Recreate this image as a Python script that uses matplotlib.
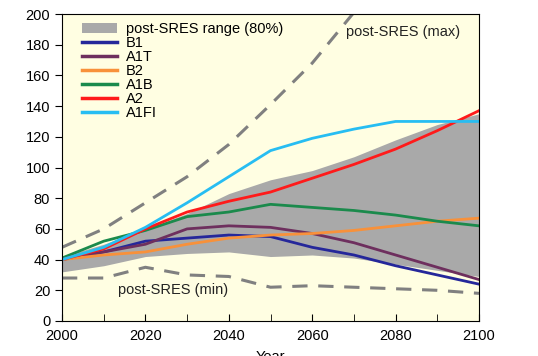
import matplotlib
matplotlib.use("Agg")
import matplotlib.pyplot as plt
from matplotlib.patches import Patch
from matplotlib.lines import Line2D

plt.rcParams['font.family'] = ['Liberation Sans', 'DejaVu Sans']

years = [2000, 2010, 2020, 2030, 2040, 2050, 2060, 2070, 2080, 2090, 2100]

# post-SRES envelope
range_low = [32, 36, 42, 44, 45, 42, 43, 41, 37, 33, 29]
range_high = [42, 50, 60, 70, 83, 92, 98, 107, 118, 128, 135]
sres_max = [48, 60, 77, 94, 115, 141, 168, 201, 230, 260, 290]
sres_min = [28, 28, 35, 30, 29, 22, 23, 22, 21, 20, 18]

# scenarios
b1 = [40, 45, 52, 54, 56, 55, 48, 43, 36, 30, 24]
a1t = [40, 45, 50, 60, 62, 61, 57, 51, 43, 35, 27]
b2 = [40, 43, 45, 50, 54, 56, 57, 59, 62, 65, 67]
a1b = [41, 52, 59, 68, 71, 76, 74, 72, 69, 65, 62]
a2 = [40, 47, 60, 71, 78, 84, 93, 102, 112, 124, 137]
a1fi = [40, 48, 61, 77, 94, 111, 119, 125, 130, 130, 130]

series = [
    ('B1', b1, '#25279a'),
    ('A1T', a1t, '#6e2f5e'),
    ('B2', b2, '#f8913a'),
    ('A1B', a1b, '#1b8a4c'),
    ('A2', a2, '#ff1a1a'),
    ('A1FI', a1fi, '#27bdf2'),
]

fig = plt.figure(figsize=(5.38, 3.56), dpi=100)
ax = fig.add_axes([62 / 538, 1 - 321 / 356, 417 / 538, 307 / 356])
ax.set_facecolor('#fffee2')

ax.fill_between(years, range_low, range_high, color='#a9a9a9', lw=0)
ax.plot(years, sres_max, color='#808080', lw=2.2, dashes=(5, 3.5))
ax.plot(years, sres_min, color='#808080', lw=2.2, dashes=(5, 3.5))

for name, vals, col in series:
    ax.plot(years, vals, color=col, lw=2)

ax.text(2068, 188, 'post-SRES (max)', fontsize=10.5, va='center', ha='left', color='#222222')
ax.text(2013.5, 20, 'post-SRES (min)', fontsize=10.5, va='center', ha='left', color='#222222')

ax.set_xlim(2000, 2100)
ax.set_ylim(0, 200)
ax.set_xticks(range(2000, 2101, 20))
ax.set_xticks(range(2010, 2100, 20), minor=True)
ax.set_yticks(range(0, 201, 20))
ax.tick_params(axis='x', which='both', direction='in', length=5, labelsize=10.5, pad=6)
ax.tick_params(axis='y', direction='out', length=5, labelsize=10.5)
ax.set_xlabel('Year', fontsize=10.5, labelpad=5)

handles = [Patch(facecolor='#a9a9a9', edgecolor='none')]
labels = ['post-SRES range (80%)']
for name, vals, col in series:
    handles.append(Line2D([], [], color=col, lw=2.5))
    labels.append(name)
ax.legend(handles, labels, loc='upper left', bbox_to_anchor=(0.02, 1.012), frameon=False,
          fontsize=10.5, handlelength=2.4, handleheight=0.7, labelspacing=0.0,
          handletextpad=0.6, borderaxespad=0.4)

fig.savefig('out.png', dpi=100)
